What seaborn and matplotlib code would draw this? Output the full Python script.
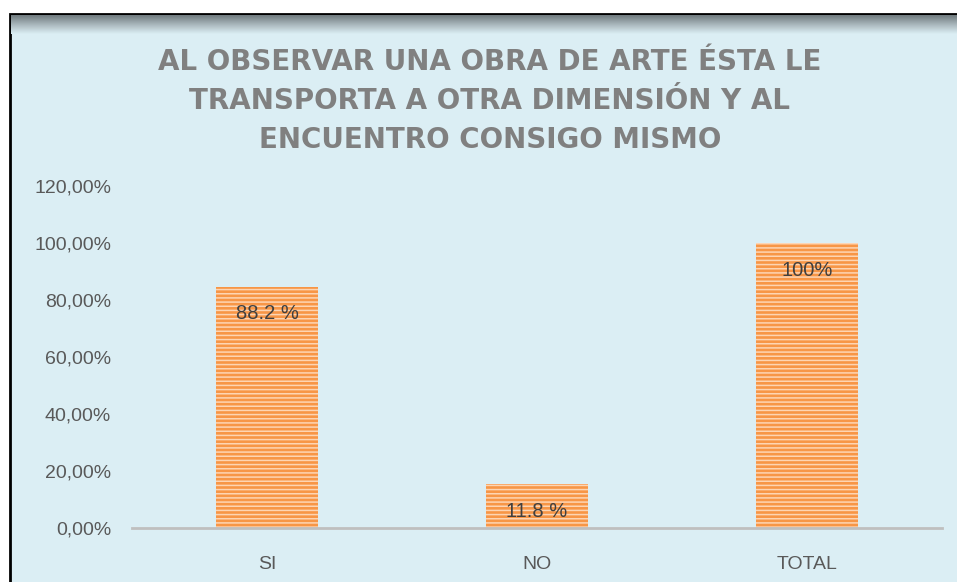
import matplotlib
matplotlib.use("Agg")
import matplotlib.pyplot as plt
import seaborn as sns
import numpy as np
from matplotlib.patches import Rectangle
from matplotlib.colors import LinearSegmentedColormap

categories = ["SI", "NO", "TOTAL"]
values = [84.6, 15.4, 100.0]
labels = ["88.2 %", "11.8 %", "100%"]
yticks = [0, 20, 40, 60, 80, 100, 120]
ytick_labels = ["0,00%", "20,00%", "40,00%", "60,00%", "80,00%", "100,00%", "120,00%"]
title = "AL OBSERVAR UNA OBRA DE ARTE ÉSTA LE\nTRANSPORTA A OTRA DIMENSIÓN Y AL\nENCUENTRO CONSIGO MISMO"

sns.set_theme(style="white")
plt.rcParams["font.family"] = ["Liberation Sans", "DejaVu Sans"]
plt.rcParams["hatch.linewidth"] = 1.1

W, H = 957, 582
fig = plt.figure(figsize=(W / 100, H / 100), dpi=100, facecolor="white")

bg = "#DBEEF4"
fig.patches.append(Rectangle((10 / W, -0.01), 1.0, (H - 14) / H + 0.01, transform=fig.transFigure,
                             facecolor=bg, edgecolor="black", linewidth=2, zorder=0))
gax = fig.add_axes([11 / W, (H - 34) / H, 1 - 11 / W, 19 / H], zorder=0.5)
grad = np.linspace(0, 1, 64).reshape(-1, 1)
cmap = LinearSegmentedColormap.from_list("sh", [bg, "#A9B7BC", "#6F7A7E"])
gax.imshow(grad, aspect="auto", cmap=cmap, extent=[0, 1, 0, 1], origin="lower")
gax.set_axis_off()

ax = fig.add_axes([132 / W, (H - 528) / H, (942 - 132) / W, (528 - 186) / H], zorder=1)
ax.set_facecolor("none")

sns.barplot(x=categories, y=values, color="#F79646", saturation=1, width=0.375, ax=ax)
for p in ax.patches:
    p.set_hatch("----")
    p.set_edgecolor("#FDD5B3")
    p.set_linewidth(0)

ax.set_ylim(0, 120)
ax.set_xlim(-0.5, 2.5)
ax.set_yticks(yticks)
ax.set_yticklabels(ytick_labels, fontsize=14, color="#595959")
ax.tick_params(axis="y", length=0, pad=15)
ax.tick_params(axis="x", length=0, pad=20, labelsize=14, labelcolor="#595959")
ax.set_xlabel("")
ax.set_ylabel("")
for s in ["top", "right", "left"]:
    ax.spines[s].set_visible(False)
ax.spines["bottom"].set_color("#BFBFBF")
ax.spines["bottom"].set_linewidth(2)

for i, (v, lab) in enumerate(zip(values, labels)):
    ax.annotate(lab, (i, v), xytext=(0, -27), textcoords="offset pixels",
                ha="center", va="center", fontsize=14.5, color="#404040")

fig.text(490 / W, 1 - 101 / H, title, ha="center", va="center", fontsize=20, fontweight="bold",
         color="#808080", family=["DejaVu Sans"], linespacing=1.5)

fig.savefig("out.png", dpi=100, facecolor="white")
